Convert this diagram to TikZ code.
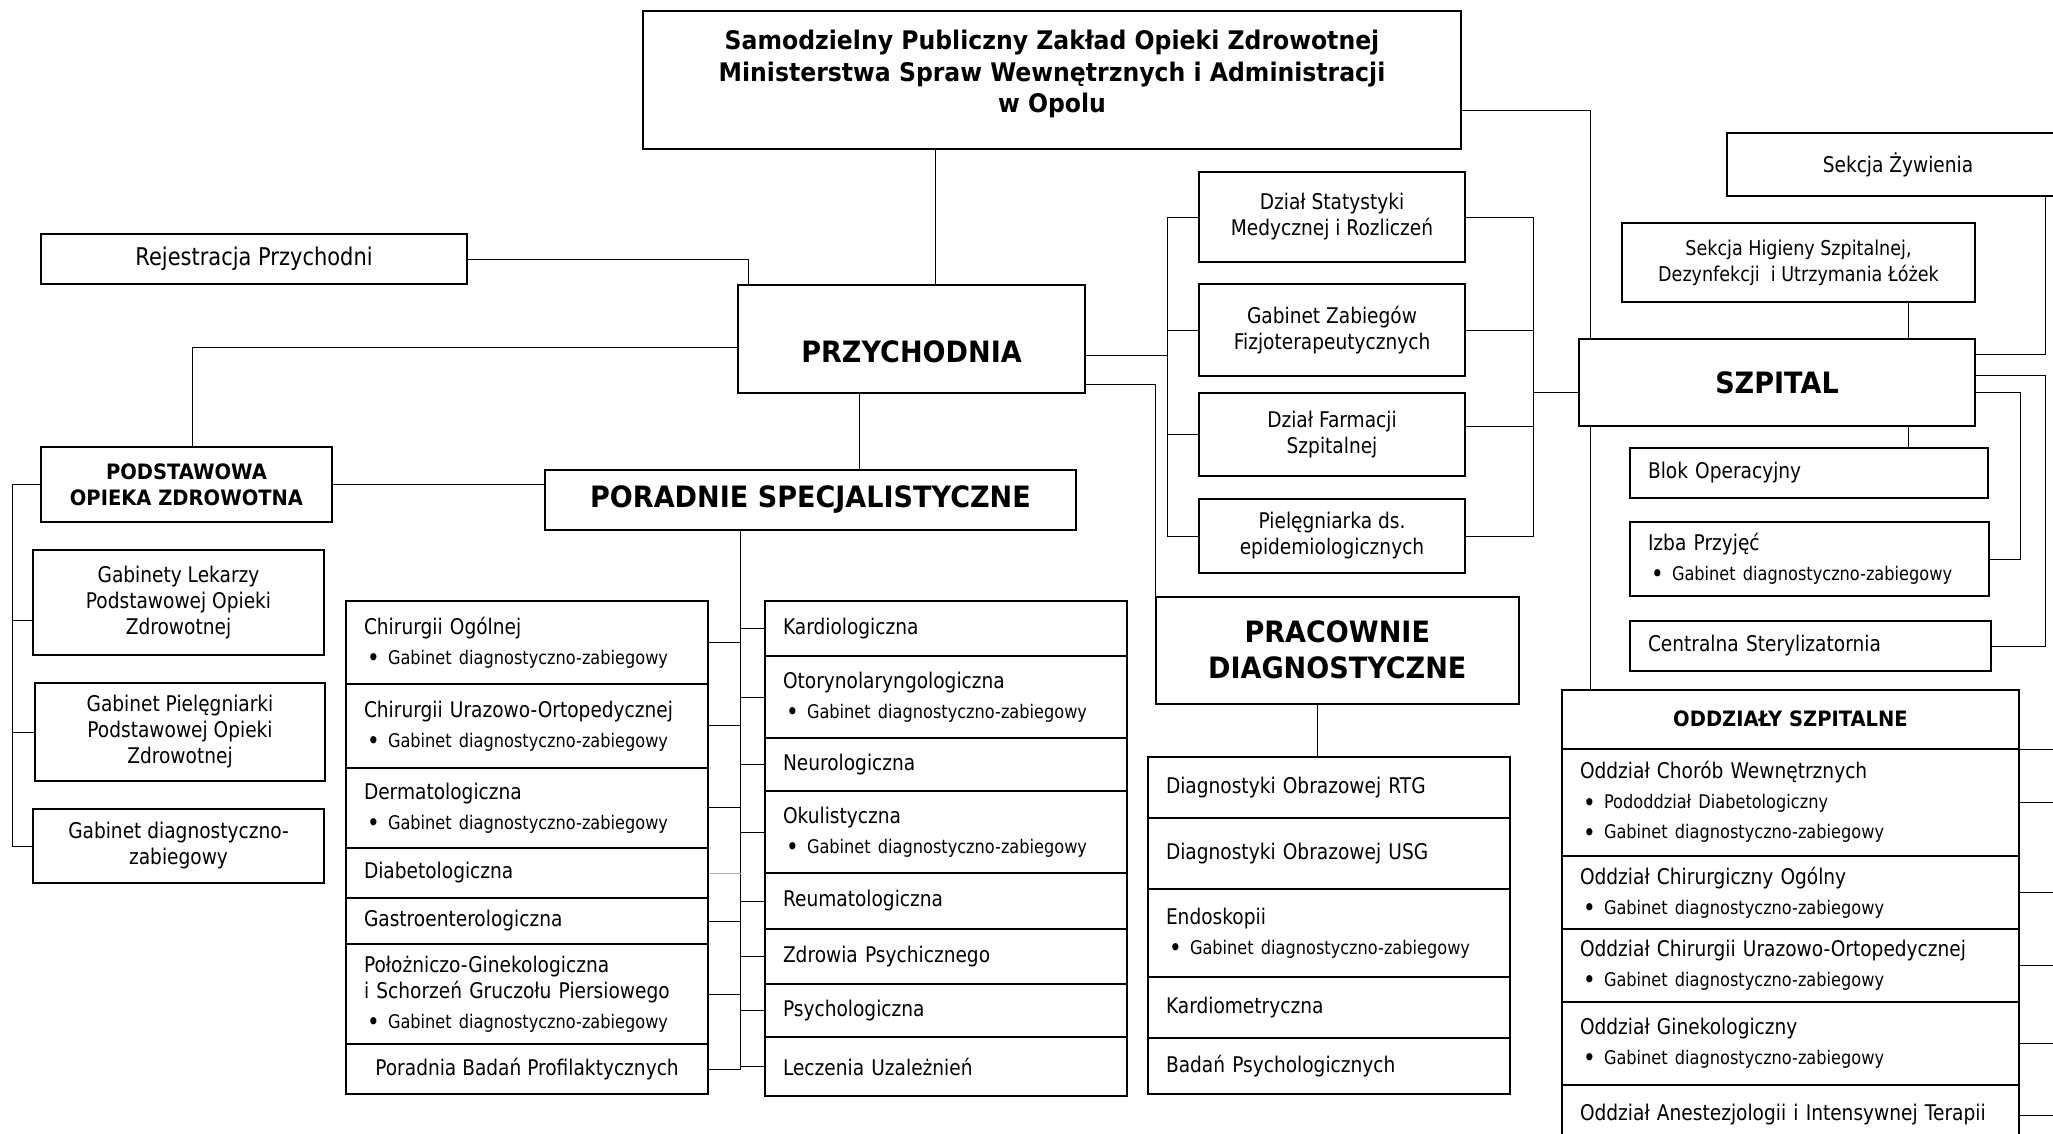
\documentclass[tikz,border=0pt]{standalone}
\usepackage{fontspec}
\setmainfont{DejaVu Sans}[FakeStretch=0.86]
\newfontfamily\hdfont{DejaVu Sans}[FakeStretch=0.92]
\usetikzlibrary{backgrounds}

% bullet line inside a cell
\newcommand{\pkt}[1]{\\[2pt]\makebox[12pt][l]{\hspace*{1.5pt}\raisebox{-1.1pt}{\fontsize{12.5}{12}\selectfont\textbullet}}{\fontsize{9.4}{11}\selectfont #1}}

\begin{document}
\begin{tikzpicture}[x=0.5pt,y=-0.5pt,
  every node/.style={font=\fontsize{10.8}{13}\selectfont},
  box/.style={draw, fill=white, anchor=north west, align=center, inner sep=0pt, line width=1pt},
  cell/.style={draw, fill=white, anchor=north west, align=left, inner xsep=9pt, inner ysep=0pt, line width=1pt},
  lcol/.style={cell, text width=163pt},
  ocol/.style={cell, text width=210.5pt},
  big/.style={font=\hdfont\bfseries\fontsize{14.7}{18}\selectfont},
  sbold/.style={font=\hdfont\bfseries\fontsize{10.6}{13}\selectfont}]
  \useasboundingbox (0,0) rectangle (2053,1134);
  \clip (0,0) rectangle (2053,1134);

  % top
  \node[box, minimum width=409pt, minimum height=69pt] (zoz) at (642,10) {};
  \node[anchor=north, align=center, inner sep=0pt, font=\hdfont\bfseries\fontsize{12.8}{15.7}\selectfont] (zozt) at ([yshift=-10pt]zoz.north)
    {Samodzielny Publiczny Zakład Opieki Zdrowotnej\\ Ministerstwa Spraw Wewnętrznych i Administracji\\ w Opolu};
  \node[box, minimum width=213pt, minimum height=25pt, font=\fontsize{12.2}{14}\selectfont] (rej) at (40,233) {Rejestracja Przychodni};
  \node[box, big, minimum width=173.5pt, minimum height=54pt, text height=23.7pt, text depth=0pt] (prz) at (737,284) {PRZYCHODNIA};

  % podstawowa opieka
  \node[box, sbold, minimum width=145.5pt, minimum height=37.5pt] (pod) at (40,446) {PODSTAWOWA\\ OPIEKA ZDROWOTNA};
  \node[box, minimum width=145.5pt, minimum height=52.5pt] (gl) at (32,549) {Gabinety Lekarzy\\ Podstawowej Opieki\\ Zdrowotnej};
  \node[box, minimum width=145pt, minimum height=49pt] (gp) at (34,682) {Gabinet Pielęgniarki\\ Podstawowej Opieki\\ Zdrowotnej};
  \node[box, minimum width=145.5pt, minimum height=37pt] (gd) at (32,808) {Gabinet diagnostyczno-\\zabiegowy};

  % poradnie
  \node[box, big, minimum width=265.5pt, minimum height=30pt] (por) at (544,469) {PORADNIE SPECJALISTYCZNE};
  \node[lcol, minimum height=41.5pt] (p1) at (345,600) {Chirurgii Ogólnej\pkt{Gabinet diagnostyczno-zabiegowy}};
  \node[lcol, minimum height=41.75pt] (p2) at (345,683) {Chirurgii Urazowo-Ortopedycznej\pkt{Gabinet diagnostyczno-zabiegowy}};
  \node[lcol, minimum height=40.25pt] (p3) at (345,766.5) {Dermatologiczna\pkt{Gabinet diagnostyczno-zabiegowy}};
  \node[lcol, minimum height=25pt] (p4) at (345,847) {Diabetologiczna};
  \node[lcol, minimum height=23pt] (p5) at (345,897) {Gastroenterologiczna};
  \node[lcol, minimum height=50pt] (p6) at (345,943) {Położniczo-Ginekologiczna\\ i Schorzeń Gruczołu Piersiowego\pkt{Gabinet diagnostyczno-zabiegowy}};
  \node[box, minimum width=181pt, minimum height=25pt] (p7) at (345,1043) {Poradnia Badań Profilaktycznych};
  \node[lcol, minimum height=27.5pt] (r1) at (764,600) {Kardiologiczna};
  \node[lcol, minimum height=41pt] (r2) at (764,655) {Otorynolaryngologiczna\pkt{Gabinet diagnostyczno-zabiegowy}};
  \node[lcol, minimum height=26.5pt] (r3) at (764,737) {Neurologiczna};
  \node[lcol, minimum height=41pt] (r4) at (764,790) {Okulistyczna\pkt{Gabinet diagnostyczno-zabiegowy}};
  \node[lcol, minimum height=28pt] (r5) at (764,872) {Reumatologiczna};
  \node[lcol, minimum height=27.25pt] (r6) at (764,928) {Zdrowia Psychicznego};
  \node[lcol, minimum height=26.75pt] (r7) at (764,982.5) {Psychologiczna};
  \node[lcol, minimum height=29.5pt] (r8) at (764,1036) {Leczenia Uzależnień};

  % dzialy przy przychodni
  \node[box, minimum width=133pt, minimum height=45pt] (ds) at (1198,171) {Dział Statystyki\\ Medycznej i Rozliczeń};
  \node[box, minimum width=133pt, minimum height=45.75pt] (gz) at (1198,283.5) {Gabinet Zabiegów\\ Fizjoterapeutycznych};
  \node[box, minimum width=133pt, minimum height=41.5pt] (df) at (1198,392) {Dział Farmacji\\ Szpitalnej};
  \node[box, minimum width=133pt, minimum height=37pt] (pe) at (1198,498) {Pielęgniarka ds.\\ epidemiologicznych};

  % pracownie
  \node[box, big, minimum width=181.25pt, minimum height=53.75pt] (pra) at (1155,595.5) {PRACOWNIE\\ DIAGNOSTYCZNE};
  \node[lcol, minimum height=30.5pt] (d1) at (1147,756) {Diagnostyki Obrazowej RTG};
  \node[lcol, minimum height=35.5pt] (d2) at (1147,817) {Diagnostyki Obrazowej USG};
  \node[lcol, minimum height=43.75pt] (d3) at (1147,888) {Endoskopii\pkt{Gabinet diagnostyczno-zabiegowy}};
  \node[lcol, minimum height=30.75pt] (d4) at (1147,975.5) {Kardiometryczna};
  \node[lcol, minimum height=28pt] (d5) at (1147,1037) {Badań Psychologicznych};

  % szpital
  \node[box, big, minimum width=198pt, minimum height=43.5pt] (szp) at (1578,338) {SZPITAL};
  \node[box, minimum width=171pt, minimum height=31.5pt] (zyw) at (1726,132) {Sekcja Żywienia};
  \node[box, minimum width=176.5pt, minimum height=39.5pt, font=\fontsize{10.2}{13}\selectfont] (hig) at (1621,222) {Sekcja Higieny Szpitalnej,\\ Dezynfekcji\ \ i Utrzymania Łóżek};
  \node[cell, text width=161pt, minimum height=25pt] (blk) at (1629,447) {Blok Operacyjny};
  \node[cell, text width=161.5pt, minimum height=37pt] (izb) at (1629,521) {Izba Przyjęć\pkt{Gabinet diagnostyczno-zabiegowy}};
  \node[cell, text width=162.5pt, minimum height=25pt] (cen) at (1629,620) {Centralna Sterylizatornia};

  % oddzialy
  \node[box, sbold, minimum width=228.5pt, minimum height=29.25pt] (oh) at (1561,689) {ODDZIAŁY SZPITALNE};
  \node[ocol, minimum height=53.75pt] (o1) at (1561,747.5) {Oddział Chorób Wewnętrznych\pkt{Pododdział Diabetologiczny}\pkt{Gabinet diagnostyczno-zabiegowy}};
  \node[ocol, minimum height=36.5pt] (o2) at (1561,855) {Oddział Chirurgiczny Ogólny\pkt{Gabinet diagnostyczno-zabiegowy}};
  \node[ocol, minimum height=36.5pt] (o3) at (1561,928) {Oddział Chirurgii Urazowo-Ortopedycznej\pkt{Gabinet diagnostyczno-zabiegowy}};
  \node[ocol, minimum height=41.5pt] (o4) at (1561,1001) {Oddział Ginekologiczny\pkt{Gabinet diagnostyczno-zabiegowy}};
  \node[ocol, minimum height=30pt] (o5) at (1561,1084) {Oddział Anestezjologii i Intensywnej Terapii};

  \begin{scope}[on background layer, line width=1pt]
    % przychodnia
    \coordinate (zb) at ([xshift=-58.5pt]zoz.south);
    \draw (zb) -- (zb |- prz.north);
    \draw (rej.east) -| ([xshift=5.5pt]prz.north west);
    \draw ([yshift=-4pt]prz.west) -| ([xshift=3pt]pod.north);
    \draw (pod.east) -- (pod.east -| por.west);
    \coordinate (pb) at ([xshift=-26pt]prz.south);
    \draw (pb) -- (pb |- por.north);
    \coordinate (lb) at ([xshift=-13.6pt]pod.west);
    \coordinate (glw) at ([yshift=-9pt]gl.west);
    \draw (pod.west) -- (lb) |- (gd.west);
    \draw (glw) -- (glw -| lb);
    \draw (gp.west) -- (gp.west -| lb);
    % poradnie
    \coordinate (sp) at ([xshift=-35pt]por.south);
    \draw (sp) -- (sp |- p7.east);
    \foreach \n in {p1,p2,p3,p5,p6,p7}
      \draw (\n.east) -- (\n.east -| sp);
    \draw[gray!60] (p4.east) -- (p4.east -| sp);
    \foreach \i in {1,...,8}
      \draw (r\i.west) -- (r\i.west -| sp);
    % dzialy
    \coordinate (ml) at ([xshift=-15.5pt]ds.west);
    \coordinate (mr) at ([xshift=33.5pt]ds.east);
    \coordinate (pra1) at ([yshift=-8pt]prz.east);
    \draw (pra1) -- (pra1 -| ml);
    \draw (ds.west) -- (ml) |- (pe.west);
    \draw (gz.west) -- (gz.west -| ml);
    \draw (df.west) -- (df.west -| ml);
    \draw (ds.east) -- (mr) |- (pe.east);
    \draw (gz.east) -- (gz.east -| mr);
    \coordinate (dfe) at ([yshift=4pt]df.east);
    \draw (dfe) -- (dfe -| mr);
    \coordinate (szw) at ([yshift=-5pt]szp.west);
    \draw (szw) -- (szw -| mr);
    \draw ([yshift=-22.5pt]prz.east) -| (pra.north west);
    \coordinate (pd) at ([xshift=-10pt]pra.south);
    \draw (pd) -- (pd |- d1.north);
    % szpital
    \draw ([yshift=-15pt]zoz.east) -| ([xshift=14.75pt]oh.north west);
    \coordinate (sn) at ([xshift=65.5pt]szp.north);
    \coordinate (ss) at ([xshift=65.5pt]szp.south);
    \draw (sn) -- (sn |- hig.south);
    \draw (ss) -- (ss |- blk.north);
    \coordinate (zr) at ([xshift=73.5pt]zyw.south);
    \draw (zr) |- ([yshift=14.25pt]szp.east);
    \coordinate (se1) at ([yshift=3.75pt]szp.east);
    \draw (se1) -- (se1 -| zr) |- (cen.east);
    \coordinate (se2) at ([yshift=-5pt]szp.east);
    \draw (se2) -- (se2 -| oh.east) |- (izb.east);
    \coordinate (re) at (2053,0);
    \draw (oh.south east) -- (oh.south east -| re);
    \foreach \i in {1,...,5}
      \draw (o\i.east) -- (o\i.east -| re);
  \end{scope}
\end{tikzpicture}
\end{document}
